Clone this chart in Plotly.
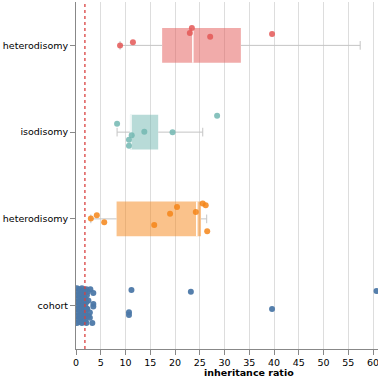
import plotly.graph_objects as go

# ---- data ----
categories = ["cohort", "heterodisomy", "isodisomy", "heterodisomy"]
colors = ["#4c78a8", "#f58518", "#72b7b2", "#e45756"]
fills = ["rgba(76,120,168,0.5)", "rgba(245,133,24,0.5)", "rgba(114,183,178,0.5)", "rgba(228,87,86,0.5)"]

# box statistics per group (index 1..3; cohort has no box drawn)
box_group = [1, 2, 3]
box_q1 = [8.2, 10.9, 17.4]
box_median = [24.4, 11.1, 23.6]
box_q3 = [25.25, 16.6, 33.3]
box_lower = [3.0, 8.3, 8.9]
box_upper = [26.4, 25.6, 57.4]

# jittered points: values and vertical jitter offsets
red_x = [8.9, 11.5, 23.4, 23.0, 27.1, 39.6]
red_j = [0.0, 0.035, 0.20, 0.143, 0.10, 0.13]

teal_x = [8.3, 11.25, 10.7, 10.7, 13.8, 19.5, 28.5]
teal_j = [0.097, -0.035, -0.088, -0.157, 0.005, 0.0, 0.19]

orange_x = [3.0, 4.2, 5.7, 15.8, 19.0, 20.4, 25.6, 26.2, 24.2, 26.5]
orange_j = [0.005, 0.043, -0.038, -0.07, 0.058, 0.138, 0.177, 0.158, 0.08, -0.142]

cohort_x = [
    0.2, 0.7, 1.2, 1.7, 2.1, 0.4, 0.9, 1.4, 1.9, 0.2, 0.7, 1.2, 1.7, 2.2, 0.4, 0.9, 1.4, 1.9,
    0.2, 0.7, 1.2, 1.7, 2.1, 0.4, 0.9, 1.4, 1.9, 0.2, 0.7, 1.2, 1.7, 2.2, 0.4, 0.9, 1.4, 1.9,
    0.2, 0.7, 1.2, 1.7, 2.0, 0.4, 0.9, 1.4, 1.9, 0.2, 0.7, 1.2, 1.7, 2.1,
    2.4, 2.5, 2.3, 2.5,
    2.9, 3.5, 3.5, 3.5, 2.8, 2.8, 3.3,
    11.2, 10.7, 10.7, 23.2, 39.6, 60.7,
]
cohort_j = [
    0.20, 0.19, 0.20, 0.18, 0.19, 0.16, 0.15, 0.16, 0.15, 0.12, 0.11, 0.12, 0.11, 0.12, 0.08, 0.07, 0.08, 0.07,
    0.04, 0.03, 0.04, 0.03, 0.04, 0.00, -0.01, 0.00, -0.01, -0.04, -0.05, -0.04, -0.05, -0.04, -0.08, -0.09, -0.08, -0.09,
    -0.12, -0.13, -0.12, -0.13, -0.12, -0.16, -0.17, -0.16, -0.17, -0.20, -0.19, -0.20, -0.19, -0.20,
    0.16, 0.06, -0.04, -0.12,
    0.19, 0.145, 0.02, -0.01, -0.08, -0.14, -0.20,
    0.18, -0.076, -0.107, 0.16, -0.04, 0.17,
]

threshold = 1.8
x_ticks = list(range(0, 65, 5))

FONT = "DejaVu Sans"
BOX_H = 0.4
CAP_H = 0.05

fig = go.Figure()

# boxes
for i, g in enumerate(box_group):
    fig.add_trace(go.Bar(
        y=[g], x=[box_q3[i] - box_q1[i]], base=[box_q1[i]], orientation="h",
        width=BOX_H, marker=dict(color=fills[g], line=dict(width=0)),
        showlegend=False, hoverinfo="skip"))
    # whiskers + caps
    wx = [box_lower[i], box_q1[i], None, box_q3[i], box_upper[i], None,
          box_lower[i], box_lower[i], None, box_upper[i], box_upper[i]]
    wy = [g, g, None, g, g, None, g - CAP_H, g + CAP_H, None, g - CAP_H, g + CAP_H]
    fig.add_trace(go.Scatter(x=wx, y=wy, mode="lines",
                             line=dict(color="#c4c4c4", width=1),
                             showlegend=False, hoverinfo="skip"))
    # median
    fig.add_trace(go.Scatter(x=[box_median[i], box_median[i]],
                             y=[g - BOX_H / 2, g + BOX_H / 2], mode="lines",
                             line=dict(color="white", width=1.5),
                             showlegend=False, hoverinfo="skip"))

# points
groups = [(0, cohort_x, cohort_j), (1, orange_x, orange_j),
          (2, teal_x, teal_j), (3, red_x, red_j)]
for g, xs, js in groups:
    fig.add_trace(go.Scatter(
        x=xs, y=[g + j for j in js], mode="markers",
        marker=dict(color=colors[g], size=6, opacity=0.85 if g else 0.95,
                    line=dict(width=0)),
        showlegend=False))

# threshold line
fig.add_trace(go.Scatter(x=[threshold, threshold], y=[-0.5, 3.5], mode="lines",
                         line=dict(color="#d9413f", width=1.3, dash="dot"),
                         showlegend=False, hoverinfo="skip"))

fig.update_layout(
    width=400, height=378,
    margin=dict(l=76, r=22, t=2, b=29),
    paper_bgcolor="white", plot_bgcolor="white",
    font=dict(family=FONT, size=9.5, color="#000"),
    barmode="overlay",
    xaxis=dict(range=[0, 61], tickvals=x_ticks, showgrid=True, gridcolor="#dddddd",
               gridwidth=1, zeroline=False, showline=True, linecolor="#888888",
               linewidth=1, ticks="outside", ticklen=5, tickcolor="#888888",
               tickfont=dict(size=9.5, family=FONT)),
    yaxis=dict(range=[-0.5, 3.5], tickvals=[0, 1, 2, 3], ticktext=categories,
               showgrid=False, zeroline=False, showline=True, linecolor="#888888",
               linewidth=1, ticks="outside", ticklen=5, tickcolor="#888888",
               tickfont=dict(size=9.5, family=FONT)),
    annotations=[dict(text="<b>inheritance ratio</b>", xref="paper", yref="paper",
                      x=(248.5 - 76) / 302, y=-0.068, xanchor="center", yanchor="middle",
                      showarrow=False, font=dict(size=9.5, family=FONT))],
)

fig.write_html("out.html", config={"displayModeBar": False},
               post_script="document.body.style.margin='0';document.body.style.overflow='hidden';")
